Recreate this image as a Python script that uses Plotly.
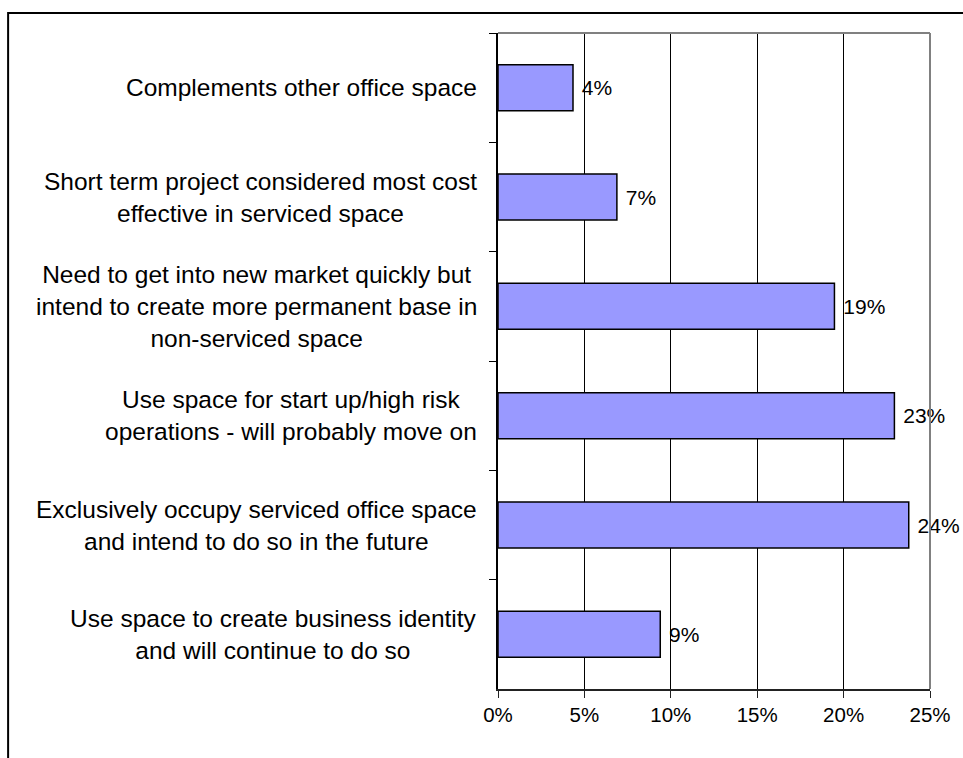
import plotly.graph_objects as go

# Reasons for using serviced office space (top to bottom)
reasons = [
    "Complements other office space",
    "Short term project considered most cost<br>effective in serviced space",
    "Need to get into new market quickly but<br>intend to create more permanent base in<br>non-serviced space",
    "Use space for start up/high risk<br>operations - will probably move on",
    "Exclusively occupy serviced office space<br>and intend to do so in the future",
    "Use space to create business identity<br>and will continue to do so",
]
share_pct = [4.34, 6.88, 19.47, 22.94, 23.77, 9.39]

x_ticks = [0, 5, 10, 15, 20, 25]
x_tick_text = ["0%", "5%", "10%", "15%", "20%", "25%"]

FONT = "Liberation Sans, Arial, sans-serif"

fig = go.Figure(
    go.Bar(
        x=share_pct,
        y=reasons,
        orientation="h",
        marker=dict(color="#9999FF", line=dict(color="#000000", width=1.5)),
        texttemplate="\u00a0%{x:.0f}%",
        textposition="outside",
        textfont=dict(family=FONT, size=21, color="#000000"),
        cliponaxis=False,
        hoverinfo="skip",
    )
)

# Category labels as centred multi-line text to the left of the axis
annotations = [
    dict(
        x=0, xref="paper", y=r, yref="y",
        text=r, showarrow=False,
        xanchor="right", yanchor="middle", align="center",
        xshift=-19,
        font=dict(family=FONT, size=24.5, color="#000000"),
    )
    for r in reasons
]

shapes = [
    # outer chart frame
    dict(type="rect", xref="paper", yref="paper",
         x0=-1.134, x1=1.2, y0=-0.2, y1=1.0305,
         line=dict(color="#000000", width=2), fillcolor="rgba(0,0,0,0)", layer="below"),
    # plot area border (top and right)
    dict(type="line", xref="paper", yref="paper", x0=0, x1=1, y0=1, y1=1,
         line=dict(color="#808080", width=2), layer="above"),
    dict(type="line", xref="paper", yref="paper", x0=1, x1=1, y0=0, y1=1,
         line=dict(color="#808080", width=2), layer="above"),
]

fig.update_layout(
    width=963, height=758,
    margin=dict(l=498, r=33, t=33, b=69),
    paper_bgcolor="#FFFFFF", plot_bgcolor="#FFFFFF",
    bargap=0.58,
    showlegend=False,
    font=dict(family=FONT, color="#000000"),
    annotations=annotations,
    shapes=shapes,
    xaxis=dict(
        range=[0, 25],
        tickvals=x_ticks, ticktext=x_tick_text,
        showgrid=True, gridcolor="#000000", gridwidth=1,
        showline=True, linecolor="#222222", linewidth=1.5,
        ticks="outside", ticklen=7, tickcolor="#222222", tickwidth=1,
        tickfont=dict(family=FONT, size=20.5, color="#000000"),
        zeroline=False, fixedrange=True,
    ),
    yaxis=dict(
        autorange="reversed",
        showticklabels=False,
        showgrid=False,
        showline=True, linecolor="#000000", linewidth=1.5,
        ticks="outside", ticklen=7, tickcolor="#000000", tickwidth=1,
        tickson="boundaries",
        zeroline=False, fixedrange=True,
    ),
)

fig.write_html("out.html", config={"displayModeBar": False})
